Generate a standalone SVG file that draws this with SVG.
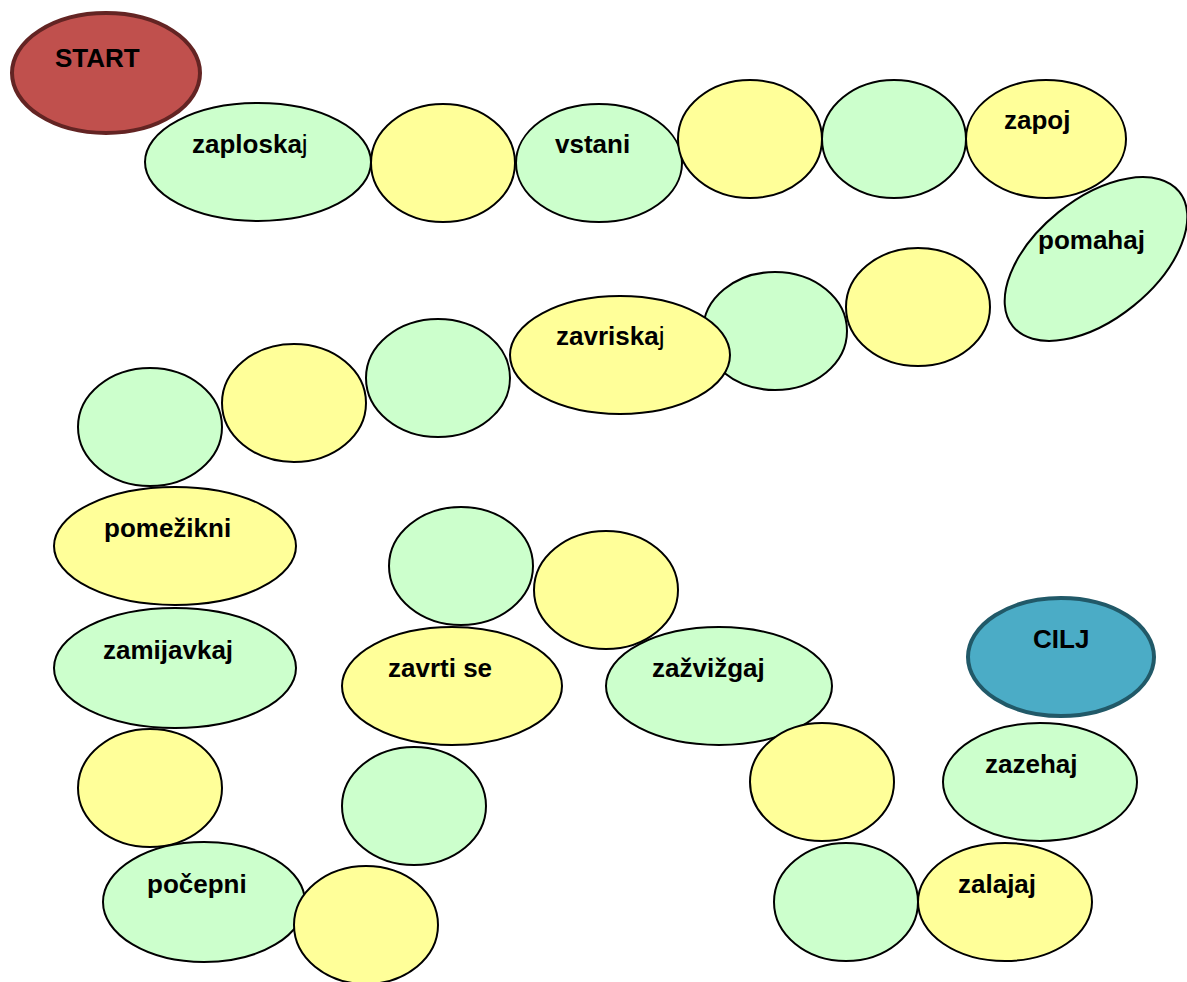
<svg xmlns="http://www.w3.org/2000/svg" width="1187" height="982" viewBox="0 0 1187 982">
<style>
.g{fill:#ccffcc;stroke:#000;stroke-width:2}
.y{fill:#ffff99;stroke:#000;stroke-width:2}
.t{font-family:"Liberation Sans",Arial,sans-serif;font-weight:bold;font-size:26px;fill:#000}
.n{font-weight:normal}
</style>
<rect width="1187" height="982" fill="#fff"/>
<g id="connectors"/>
<g id="start"><ellipse cx="106" cy="73" rx="94" ry="60" fill="#c0504d" stroke="#632423" stroke-width="4"/><text class="t" x="55" y="67">START</text></g>
<g id="n1"><ellipse class="g" cx="258" cy="162" rx="113" ry="59"/><text class="t" x="192" y="153">zaplosk<tspan>a</tspan><tspan class="n">j</tspan></text></g>
<g id="n2"><ellipse class="y" cx="443" cy="163" rx="72" ry="59"/></g>
<g id="n3"><ellipse class="g" cx="599" cy="163" rx="83" ry="59"/><text class="t" x="555" y="153">vstani</text></g>
<g id="n4"><ellipse class="y" cx="750" cy="139" rx="72" ry="59"/></g>
<g id="n5"><ellipse class="g" cx="894" cy="139" rx="72" ry="59"/></g>
<g id="n6"><ellipse class="y" cx="1046" cy="139" rx="80" ry="59"/><text class="t" x="1004" y="129">zapoj</text></g>
<g id="n7"><ellipse class="g" cx="1096" cy="259" rx="107" ry="60" transform="rotate(-39 1096 259)"/><text class="t" x="1038" y="249">pomahaj</text></g>
<g id="n8"><ellipse class="y" cx="918" cy="307" rx="72" ry="59"/></g>
<g id="n9"><ellipse class="g" cx="775" cy="331" rx="72" ry="59"/></g>
<g id="n10"><ellipse class="y" cx="620" cy="355" rx="110" ry="59"/><text class="t" x="556" y="345">zavrisk<tspan>a</tspan><tspan class="n">j</tspan></text></g>
<g id="n11"><ellipse class="g" cx="438" cy="378" rx="72" ry="59"/></g>
<g id="n12"><ellipse class="y" cx="294" cy="403" rx="72" ry="59"/></g>
<g id="n13"><ellipse class="g" cx="150" cy="427" rx="72" ry="59"/></g>
<g id="n14"><ellipse class="y" cx="175" cy="546" rx="121" ry="59"/><text class="t" x="104" y="537">pomežikni</text></g>
<g id="n15"><ellipse class="g" cx="175" cy="668" rx="121" ry="60"/><text class="t" x="103" y="659">zamijavkaj</text></g>
<g id="n16"><ellipse class="y" cx="150" cy="788" rx="72" ry="59"/></g>
<g id="n17"><ellipse class="g" cx="204" cy="902" rx="101" ry="60"/><text class="t" x="147" y="893">počepni</text></g>
<g id="n18"><ellipse class="y" cx="366" cy="925" rx="72" ry="59"/></g>
<g id="n19"><ellipse class="g" cx="414" cy="806" rx="72" ry="59"/></g>
<g id="n20"><ellipse class="y" cx="452" cy="686" rx="110" ry="59"/><text class="t" x="388" y="677">zavrti se</text></g>
<g id="n21"><ellipse class="g" cx="461" cy="566" rx="72" ry="59"/></g>
<g id="n23"><ellipse class="g" cx="719" cy="686" rx="113" ry="59"/><text class="t" x="652" y="677">zažvižgaj</text></g>
<g id="n22"><ellipse class="y" cx="606" cy="590" rx="72" ry="59"/></g>
<g id="n24"><ellipse class="y" cx="822" cy="782" rx="72" ry="59"/></g>
<g id="n25"><ellipse class="g" cx="846" cy="902" rx="72" ry="59"/></g>
<g id="n26"><ellipse class="y" cx="1005" cy="902" rx="87" ry="59"/><text class="t" x="958" y="893">zalajaj</text></g>
<g id="n27"><ellipse class="g" cx="1040" cy="782" rx="97" ry="59"/><text class="t" x="985" y="773">zazehaj</text></g>
<g id="cilj"><ellipse cx="1061" cy="657" rx="93" ry="59" fill="#4bacc6" stroke="#215968" stroke-width="4"/><text class="t" x="1033" y="648">CILJ</text></g>
</svg>
